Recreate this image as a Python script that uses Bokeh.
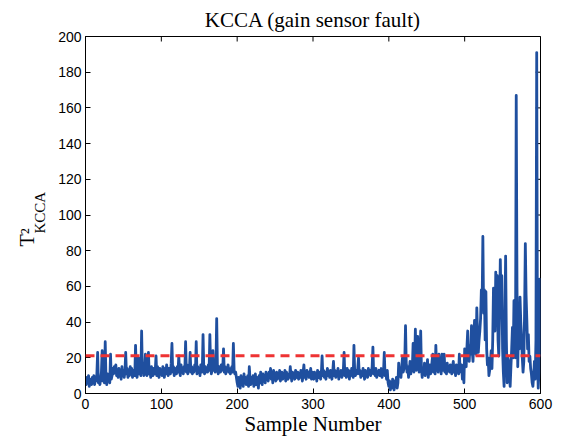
import numpy as np
from bokeh.plotting import figure
from bokeh.models import Range1d, FixedTicker, Span, Title
from bokeh.embed import file_html
from bokeh.resources import INLINE

# ---- data ----
title_text = "KCCA (gain sensor fault)"
x_label = "Sample Number"
y_label_main = "T\u00b2"
y_label_sub = "KCCA"
x_ticks = [0, 100, 200, 300, 400, 500, 600]
y_ticks = [0, 20, 40, 60, 80, 100, 120, 140, 160, 180, 200]
threshold = 21.2
t2_kcca = [
    8, 5, 9, 6, 10, 4, 8, 7, 5, 9, 6, 10, 5, 8, 7, 11, 23, 6, 9, 5,
    8, 12, 24, 7, 10, 6, 29, 9, 5, 11, 7, 9, 6, 22, 8, 10, 14, 11, 15, 12,
    16, 10, 13, 9, 14, 11, 12, 8, 15, 10, 13, 9, 12, 23, 11, 14, 9, 13, 10, 15,
    11, 14, 9, 13, 12, 10, 27, 12, 9, 14, 20, 11, 13, 10, 35, 12, 15, 10, 13, 22,
    12, 10, 14, 23, 11, 13, 9, 15, 12, 10, 14, 11, 13, 21, 10, 15, 12, 9, 14, 11,
    13, 10, 15, 12, 9, 14, 11, 16, 12, 10, 14, 13, 11, 17, 28, 12, 15, 10, 14, 13,
    11, 15, 12, 21, 13, 10, 16, 12, 14, 11, 15, 13, 29, 12, 16, 11, 14, 13, 23, 12,
    15, 11, 14, 12, 16, 13, 29, 11, 15, 12, 14, 10, 16, 13, 12, 33, 14, 11, 15, 12,
    14, 12, 16, 13, 33, 15, 11, 14, 24, 13, 15, 12, 16, 42, 14, 11, 15, 13, 12, 16,
    13, 14, 25, 12, 15, 11, 14, 13, 16, 12, 14, 11, 13, 15, 12, 28, 13, 11, 12, 9,
    6, 4, 9, 7, 3, 10, 5, 8, 4, 11, 6, 9, 5, 7, 10, 4, 15, 8, 5, 9,
    6, 10, 4, 8, 11, 5, 9, 7, 3, 10, 6, 12, 8, 5, 11, 7, 9, 6, 12, 8,
    10, 7, 12, 9, 14, 8, 11, 6, 13, 9, 10, 7, 12, 8, 11, 9, 13, 7, 10, 12,
    8, 11, 9, 13, 7, 12, 10, 8, 11, 9, 15, 10, 7, 12, 9, 11, 8, 13, 10, 9,
    12, 8, 11, 9, 13, 10, 7, 12, 16, 9, 11, 8, 13, 10, 12, 9, 11, 14, 8, 12,
    10, 8, 12, 9, 11, 7, 13, 10, 9, 12, 8, 11, 21, 10, 13, 9, 12, 8, 11, 14,
    10, 12, 9, 13, 11, 8, 12, 18, 10, 13, 9, 12, 11, 14, 8, 12, 10, 13, 9, 11,
    13, 23, 10, 12, 9, 14, 11, 13, 8, 12, 10, 14, 11, 9, 27, 12, 10, 13, 11, 14,
    20, 11, 13, 9, 12, 10, 14, 11, 8, 13, 10, 12, 9, 14, 11, 13, 10, 12, 15, 26,
    11, 13, 10, 14, 9, 12, 11, 13, 10, 12, 14, 9, 11, 12, 23, 10, 12, 8, 13, 6,
    4, 7, 2, 6, 3, 8, 5, 2, 7, 4, 9, 3, 6, 17, 10, 13, 9, 15, 20, 12,
    14, 18, 38, 16, 12, 15, 9, 13, 18, 11, 16, 14, 28, 12, 17, 36, 13, 19, 32, 15,
    12, 16, 35, 14, 9, 13, 11, 17, 10, 15, 12, 19, 9, 14, 16, 11, 13, 18, 22, 12,
    15, 11, 27, 13, 16, 12, 22, 14, 18, 11, 22, 13, 16, 22, 12, 15, 11, 17, 13, 14,
    12, 16, 13, 11, 15, 18, 12, 14, 10, 16, 13, 15, 11, 22, 14, 12, 16, 8, 13, 6,
    25, 23, 15, 26, 35, 20, 18, 27, 22, 38, 24, 18, 30, 41, 28, 22, 48, 33, 23, 30,
    35, 42, 58, 50, 88, 45, 58, 30, 57, 25, 16, 20, 10, 13, 18, 24, 14, 30, 59, 48,
    35, 68, 40, 66, 30, 21, 45, 75, 50, 66, 25, 12, 4, 40, 77, 30, 6, 20, 18, 10,
    4, 15, 25, 37, 20, 52, 35, 20, 167, 60, 15, 37, 25, 54, 40, 32, 20, 12, 18, 45,
    84, 55, 41, 25, 33, 18, 21, 14, 11, 6, 4, 10, 18, 8, 30, 191, 20, 3, 12, 64,
    21,
]
samples = list(range(len(t2_kcca)))

SERIF = "Liberation Serif"
SANS = "Liberation Sans"

p = figure(width=563, height=441, output_backend="svg", toolbar_location=None,
           x_range=Range1d(0, 600), y_range=Range1d(0, 200),
           min_border_left=85, min_border_right=23, min_border_top=35,
           min_border_bottom=48, title=title_text)
p.background_fill_color = "white"
p.border_fill_color = "white"
p.outline_line_color = "black"
p.outline_line_width = 1
p.grid.visible = False

p.title.align = "center"
p.title.text_font = SERIF
p.title.text_font_size = "21px"
p.title.text_font_style = "normal"
p.title.text_color = "black"
p.title.standoff = 10

for ax, ticks, standoff in ((p.xaxis[0], x_ticks, 5), (p.yaxis[0], y_ticks, 4)):
    ax.ticker = FixedTicker(ticks=ticks)
    ax.major_tick_in = 5
    ax.major_tick_out = 0
    ax.minor_tick_line_color = None
    ax.axis_line_color = "black"
    ax.major_tick_line_color = "black"
    ax.major_label_text_font = SANS
    ax.major_label_text_font_size = "14px"
    ax.major_label_text_color = "black"
    ax.major_label_standoff = standoff

p.xaxis.axis_label = x_label
p.xaxis.axis_label_text_font = SERIF
p.xaxis.axis_label_text_font_size = "21px"
p.xaxis.axis_label_text_font_style = "normal"
p.xaxis.axis_label_text_color = "black"
p.xaxis.axis_label_standoff = 0

# y label T^2 with subscript KCCA, as two rotated titles at the left
p.add_layout(Title(text=y_label_sub, align="left", offset=160, vertical_align="top",
                   standoff=10.8, text_font=SERIF, text_font_size="15px",
                   text_font_style="normal", text_color="black"), "left")
p.add_layout(Title(text=y_label_main, align="left", offset=147, vertical_align="bottom",
                   standoff=-22, text_font=SERIF, text_font_size="20px",
                   text_font_style="normal", text_color="black"), "left")

# inward ticks on the top and right edges of the box
p.scatter(x_ticks, [200] * len(x_ticks), marker="dash", size=10, angle=np.pi / 2,
          line_color="black", line_width=1)
p.scatter([600] * len(y_ticks), y_ticks, marker="dash", size=10,
          line_color="black", line_width=1)

p.line(samples, t2_kcca, line_color="#1f4f9f", line_width=2.8, line_join="round")
p.add_layout(Span(location=threshold, dimension="width", line_color="#ee3333",
                  line_width=3, line_dash="9 6"))

open("out.html", "w").write(file_html(p, INLINE))
